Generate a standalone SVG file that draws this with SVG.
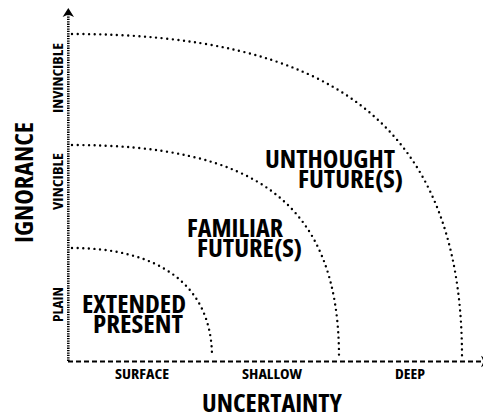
<svg xmlns="http://www.w3.org/2000/svg" width="483" height="418" viewBox="0 0 483 418">
<style>
.bg{fill:#ffffff}
.arc{fill:none;stroke:#000;stroke-width:2.4;stroke-linecap:round;stroke-dasharray:0 5.6}
.vaxis{fill:none;stroke:#000;stroke-width:2.6;stroke-dasharray:1.3 1.1}
.haxis{fill:none;stroke:#000;stroke-width:2;stroke-dasharray:5 3}
.head{fill:#000;stroke:none}
text{font-family:"Open Sans","DejaVu Sans Condensed","Liberation Sans Narrow",sans-serif;font-weight:700;font-stretch:condensed;fill:#000}
.big{font-size:25px}
.small{font-size:15px}
</style>
<rect class="bg" x="0" y="0" width="483" height="418"/>
<g id="axes">
  <line class="vaxis" x1="68.3" y1="14" x2="68.3" y2="362"/>
  <path class="head" d="M68.3,8 L74,17 L68.3,14.5 L62.6,17 Z"/>
  <line class="haxis" x1="68" y1="361.5" x2="483" y2="361.5"/>
  <path class="head" d="M490,361.5 L481,355.8 L483.5,361.5 L481,367.2 Z"/>
</g>
<g id="connectors">
  <path id="arc-inner" class="arc" d="M72,248 C156,248 212,283 212,357"/>
  <path id="arc-middle" class="arc" d="M72,145 C252,145 339,200 339,357"/>
  <path id="arc-outer" class="arc" d="M72,34 C320,34 462,115 462,357"/>
</g>
<g id="axis-labels">
  <text class="big" transform="translate(33,182.5) rotate(-90)" text-anchor="middle" textLength="121" lengthAdjust="spacingAndGlyphs">IGNORANCE</text>
  <text class="big" x="272" y="412" text-anchor="middle" textLength="140" lengthAdjust="spacingAndGlyphs">UNCERTAINTY</text>
  <text class="small" transform="translate(63,78) rotate(-90)" text-anchor="middle" textLength="70" lengthAdjust="spacingAndGlyphs">INVINCIBLE</text>
  <text class="small" transform="translate(63,181.5) rotate(-90)" text-anchor="middle" textLength="57" lengthAdjust="spacingAndGlyphs">VINCIBLE</text>
  <text class="small" transform="translate(63,304.5) rotate(-90)" text-anchor="middle" textLength="35" lengthAdjust="spacingAndGlyphs">PLAIN</text>
  <text class="small" x="142" y="379" text-anchor="middle" textLength="54" lengthAdjust="spacingAndGlyphs">SURFACE</text>
  <text class="small" x="272" y="379" text-anchor="middle" textLength="60" lengthAdjust="spacingAndGlyphs">SHALLOW</text>
  <text class="small" x="410" y="379" text-anchor="middle" textLength="30" lengthAdjust="spacingAndGlyphs">DEEP</text>
</g>
<g id="node-extended-present">
  <text class="big" x="82" y="313" textLength="104" lengthAdjust="spacingAndGlyphs">EXTENDED</text>
  <text class="big" x="93" y="333" textLength="90" lengthAdjust="spacingAndGlyphs">PRESENT</text>
</g>
<g id="node-familiar-futures">
  <text class="big" x="187" y="237" textLength="96" lengthAdjust="spacingAndGlyphs">FAMILIAR</text>
  <text class="big" x="197" y="257" textLength="105" lengthAdjust="spacingAndGlyphs">FUTURE(S)</text>
</g>
<g id="node-unthought-futures">
  <text class="big" x="265" y="168" textLength="130" lengthAdjust="spacingAndGlyphs">UNTHOUGHT</text>
  <text class="big" x="298" y="188" textLength="105" lengthAdjust="spacingAndGlyphs">FUTURE(S)</text>
</g>
</svg>
